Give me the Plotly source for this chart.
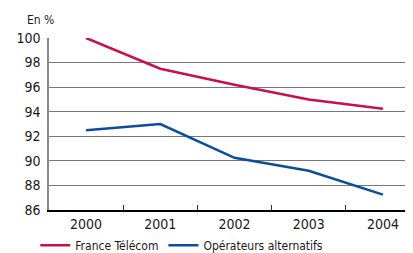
import plotly.graph_objects as go

years = ["2000", "2001", "2002", "2003", "2004"]
france_telecom = [100.0, 97.5, 96.2, 95.0, 94.25]
operateurs_alt = [92.5, 93.0, 90.25, 89.2, 87.25]
y_ticks = [86, 88, 90, 92, 94, 96, 98, 100]

FONT = "DejaVu Sans Condensed, Liberation Sans Narrow, sans-serif"
xpos = list(range(len(years)))

fig = go.Figure()
fig.add_trace(go.Scatter(x=xpos, y=france_telecom, mode="lines", name="France Télécom",
                         line=dict(color="#C8104E", width=2.5)))
fig.add_trace(go.Scatter(x=xpos, y=operateurs_alt, mode="lines", name="Opérateurs alternatifs",
                         line=dict(color="#0A4D9E", width=2.5)))

fig.update_layout(
    width=413, height=253,
    margin=dict(l=41, r=1, t=30, b=43),
    paper_bgcolor="white", plot_bgcolor="white",
    font=dict(family=FONT, size=14, color="#1a1a1a"),
    showlegend=True,
    legend=dict(orientation="h", x=-0.037, y=-0.12, xanchor="left", yanchor="top",
                font=dict(size=12), tracegroupgap=0, bgcolor="rgba(0,0,0,0)"),
    xaxis=dict(range=[-0.5, len(years) - 0.5], tickvals=xpos, ticktext=years,
               showgrid=False, zeroline=False, showline=True, linecolor="#000", linewidth=1.5,
               ticks="", tickfont=dict(size=14),
               minor=dict(tickvals=[i + 0.5 for i in xpos], ticks="inside", ticklen=5,
                          tickcolor="#333", showgrid=False)),
    yaxis=dict(range=[86, 100], tickvals=y_ticks, ticktext=[str(v) for v in y_ticks],
               showgrid=True, gridcolor="#777", gridwidth=1, zeroline=False,
               showline=True, linecolor="#888", linewidth=1.5, ticks="", ticklabelstandoff=4,
               tickfont=dict(size=14)),
)
fig.add_annotation(text="En %", xref="paper", yref="paper", x=-0.065, y=1.0, yshift=9,
                   xanchor="left", yanchor="bottom", showarrow=False, font=dict(size=12))

fig.write_html("out.html")
